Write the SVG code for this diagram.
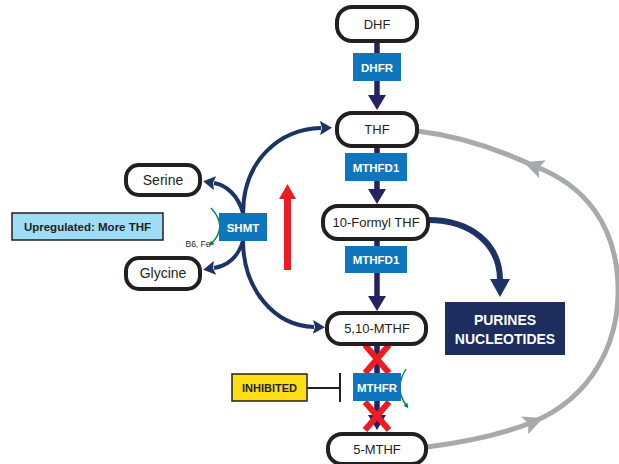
<svg xmlns="http://www.w3.org/2000/svg" width="619" height="464" viewBox="0 0 619 464">
<defs>
<style>
.node rect{fill:#fff;stroke:#231f20;stroke-width:4}
.node text{font-family:"Liberation Sans",Arial,sans-serif;font-size:13px;fill:#231f20;text-anchor:middle}
.enz rect{fill:#0f75bc}
.enz text{font-family:"Liberation Sans",Arial,sans-serif;font-size:11.5px;font-weight:bold;fill:#fff;text-anchor:middle}
.vert{stroke:#262261;stroke-width:5.5;fill:none;marker-end:url(#ahV)}
.curv{stroke:#1c3363;stroke-width:4;fill:none;marker-end:url(#ahN)}
.gray{stroke:#a7a9ac;stroke-width:5;fill:none}
.redx{stroke:#ed1c24;stroke-width:6;stroke-linecap:butt}
.green{stroke:#00854a;stroke-width:1.4;fill:none;marker-end:url(#ahG)}
</style>
<marker id="ahV" markerUnits="userSpaceOnUse" markerWidth="15" markerHeight="18" viewBox="0 0 15 18" refX="1" refY="9" orient="auto"><path d="M0,0 L15,9 L0,18 z" fill="#262261"/></marker>
<marker id="ahN" markerUnits="userSpaceOnUse" markerWidth="12" markerHeight="14" viewBox="0 0 12 14" refX="1" refY="7" orient="auto"><path d="M0,0 L12,7 L0,14 L2,7 z" fill="#1c3363"/></marker>
<marker id="ahP" markerUnits="userSpaceOnUse" markerWidth="18" markerHeight="20" viewBox="0 0 18 20" refX="1" refY="10" orient="auto"><path d="M0,0 L18,10 L0,20 z" fill="#1c3363"/></marker>
<marker id="ahGr" markerUnits="userSpaceOnUse" markerWidth="20" markerHeight="19" viewBox="0 0 20 19" refX="9" refY="9.5" orient="auto"><path d="M0,0 L20,9.5 L0,19 L4,9.5 z" fill="#a7a9ac"/></marker>
<marker id="ahG" markerUnits="userSpaceOnUse" markerWidth="5" markerHeight="5" viewBox="0 0 5 5" refX="1" refY="2.5" orient="auto"><path d="M0,0 L5,2.5 L0,5 z" fill="#00854a"/></marker>
</defs>
<rect width="619" height="464" fill="#fff"/>

<g id="connectors">
  <path class="gray" d="M 427 447 C 465 442, 503 434, 533 422" marker-end="url(#ahGr)"/>
  <path class="gray" d="M 533 422 C 590 398, 620 345, 618 285 C 616 225, 585 185, 534 166" marker-end="url(#ahGr)"/>
  <path class="gray" d="M 534 166 C 500 150, 460 136, 417 131"/>
  <line class="vert" x1="377" y1="41" x2="377" y2="96"/>
  <line class="vert" x1="377" y1="146" x2="377" y2="190"/>
  <line class="vert" x1="377" y1="239" x2="377" y2="297"/>
  <line class="vert" x1="377" y1="344" x2="377" y2="416"/>
  <path class="curv" d="M 243 214 C 243 160, 280 129, 321 128"/>
  <path class="curv" d="M 243 240 C 243 290, 275 326, 314 327"/>
  <path class="curv" d="M 243 213 C 238 195, 226 185, 214 183"/>
  <path class="curv" d="M 243 241 C 238 258, 226 266, 214 268"/>
  <path d="M 428 220 C 472 220, 500 245, 500 280" stroke="#1c3363" stroke-width="6" fill="none" marker-end="url(#ahP)"/>
  <path class="green" d="M 211 208 Q 228 226 212 243"/>
  <path class="green" d="M 406 369 Q 394 388 406 405"/>
  <path class="redx" d="M 365 345 L 389 373 M 389 345 L 365 373"/>
  <path class="redx" d="M 365 402 L 389 430 M 389 402 L 365 430"/>
  <line x1="307" y1="388" x2="340" y2="388" stroke="#231f20" stroke-width="2"/>
  <line x1="340" y1="373" x2="340" y2="402" stroke="#231f20" stroke-width="2"/>
  <rect x="284" y="198" width="7" height="72" fill="#ed1c24"/>
  <polygon points="279,199 287.5,184 296,199" fill="#ed1c24"/>
</g>

<g id="DHF" class="node"><rect x="337" y="7" width="80" height="34" rx="15"/><text x="377" y="29">DHF</text></g>
<g id="THF" class="node"><rect x="337" y="113" width="80" height="33" rx="15"/><text x="377" y="134">THF</text></g>
<g id="FormylTHF" class="node"><rect x="323" y="206" width="105" height="33" rx="15"/><text x="376" y="227">10-Formyl THF</text></g>
<g id="MTHF510" class="node"><rect x="327" y="313" width="99" height="31" rx="14"/><text x="377" y="333">5,10-MTHF</text></g>
<g id="MTHF5" class="node"><rect x="328" y="434" width="98" height="30" rx="14"/><text x="377" y="454">5-MTHF</text></g>
<g id="Serine" class="node"><rect x="126" y="165" width="74" height="30" rx="13"/><text x="163" y="185" style="font-size:14px">Serine</text></g>
<g id="Glycine" class="node"><rect x="126" y="258" width="74" height="31" rx="13"/><text x="163" y="278" style="font-size:14px">Glycine</text></g>

<g id="DHFR" class="enz"><rect x="353" y="53" width="48" height="28"/><text x="377" y="71.5">DHFR</text></g>
<g id="MTHFD1a" class="enz"><rect x="345" y="153" width="62" height="28"/><text x="376" y="171.5">MTHFD1</text></g>
<g id="MTHFD1b" class="enz"><rect x="345" y="246" width="62" height="27"/><text x="376" y="264">MTHFD1</text></g>
<g id="SHMT" class="enz"><rect x="219" y="213" width="48" height="28"/><text x="243" y="231.5">SHMT</text></g>
<g id="MTHFR" class="enz"><rect x="353" y="373" width="48" height="28"/><text x="377" y="391.5">MTHFR</text></g>

<g id="B6Fe"><text x="198" y="247" font-family="Liberation Sans, Arial, sans-serif" font-size="8.5" fill="#231f20" text-anchor="middle">B6, Fe</text></g>

<g id="Upregulated"><rect x="12" y="213" width="151" height="27" fill="#9fdcf5" stroke="#231f20" stroke-width="1.5"/><text x="87.5" y="230.5" font-family="Liberation Sans, Arial, sans-serif" font-size="11.5" font-weight="bold" fill="#231f20" text-anchor="middle">Upregulated: More THF</text></g>

<g id="Inhibited"><rect x="232" y="374" width="75" height="27" fill="#ffdd15" stroke="#231f20" stroke-width="1.5"/><text x="269.5" y="391.5" font-family="Liberation Sans, Arial, sans-serif" font-size="11" font-weight="bold" fill="#231f20" text-anchor="middle">INHIBITED</text></g>

<g id="Purines"><rect x="445" y="302" width="120" height="53" fill="#1c2d5e"/><text font-family="Liberation Sans, Arial, sans-serif" font-size="14" font-weight="bold" fill="#fff" text-anchor="middle"><tspan x="505" y="325">PURINES</tspan><tspan x="505" y="344">NUCLEOTIDES</tspan></text></g>
</svg>
